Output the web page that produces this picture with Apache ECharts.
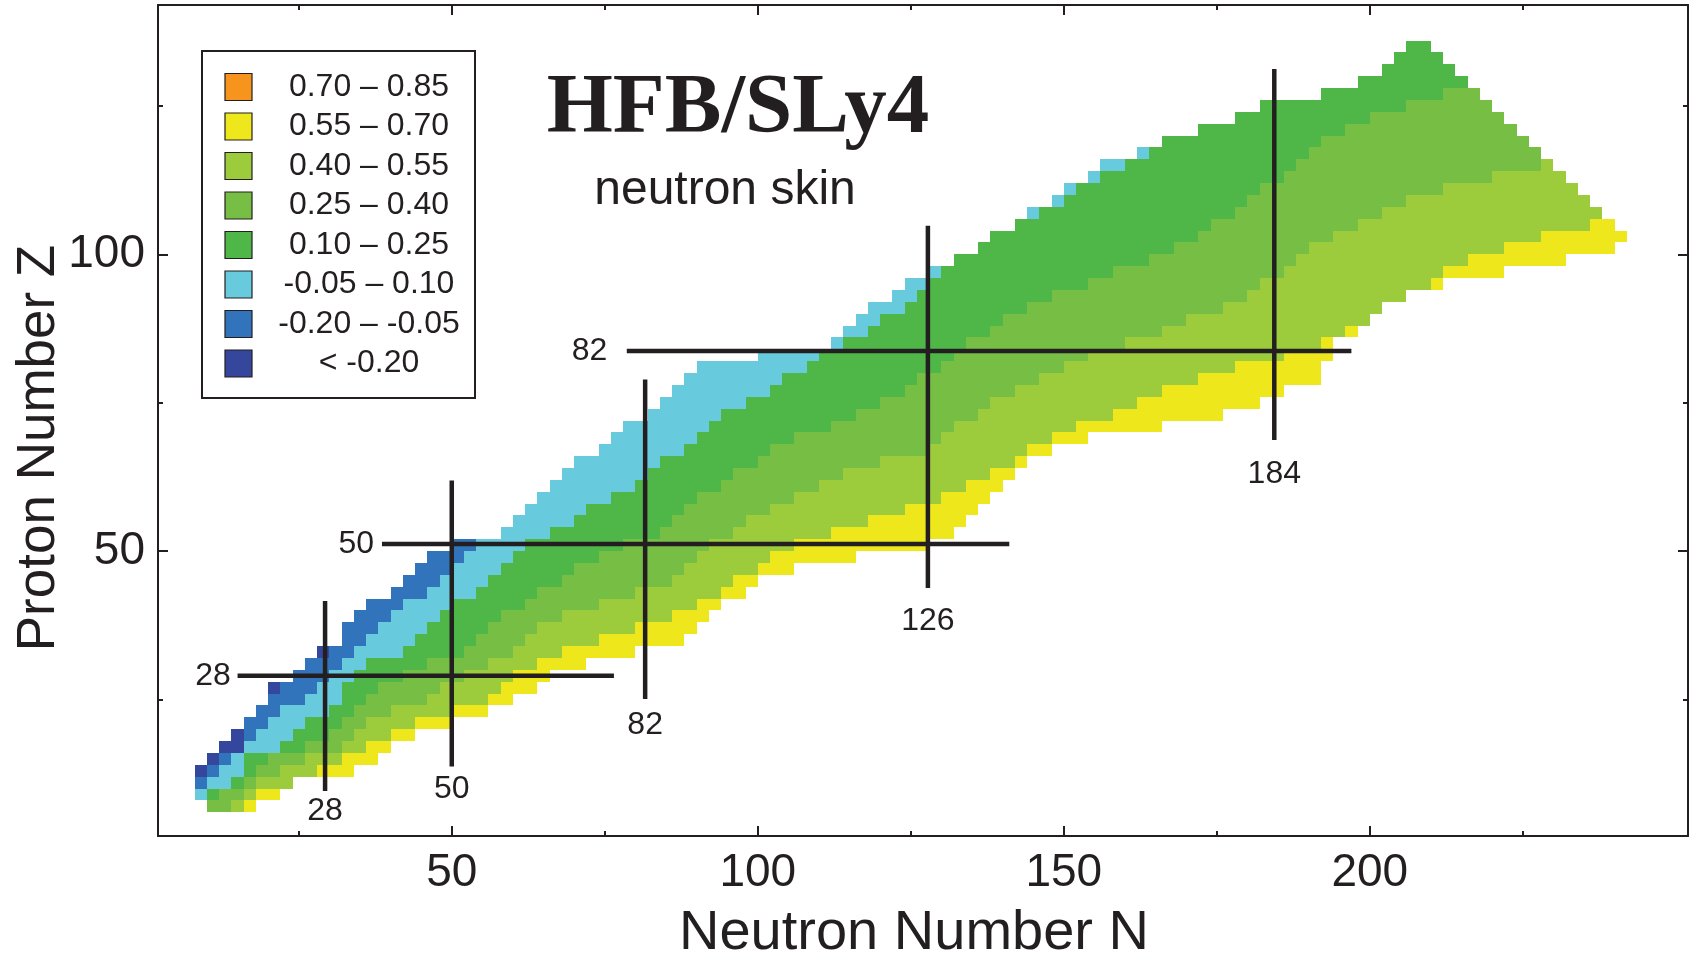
<!DOCTYPE html>
<html><head><meta charset="utf-8">
<script src="https://cdn.jsdelivr.net/npm/echarts@6/dist/echarts.min.js"></script>
<style>html,body{margin:0;padding:0;background:#fff}#c{width:1702px;height:961px}</style>
</head><body><div id="c"></div>
<script>
// ---------- DATA ----------
// proton number of each row of even-even nuclei (cell spans Z-2..Z)
const zRows = [8,10,12,14,16,18,20,22,24,26,28,30,32,34,36,38,40,42,44,46,48,50,52,54,56,58,60,62,64,66,68,70,72,74,76,78,80,82,84,86,88,90,92,94,96,98,100,102,104,106,108,110,112,114,116,118,120,122,124,126,128,130,132,134,136];
// first neutron edge of each row
const nLeft = [10,8,8,8,10,12,14,16,18,20,20,24,26,28,32,32,34,36,40,42,44,46,50,58,60,62,64,66,68,70,74,76,78,82,84,86,88,90,100,112,114,116,118,122,124,128,132,136,138,142,144,148,150,154,156,162,166,172,178,182,192,198,202,204,206];
// neutron edge where each skin class ends in each row
const endDarkBlue = [10,8,8,10,12,16,16,16,18,20,22,24,26,30,32,32,34,36,40,42,44,46,50,58,60,62,64,66,68,70,74,76,78,82,84,86,88,90,100,112,114,116,118,122,124,128,132,136,138,142,144,148,150,154,156,162,166,172,178,182,192,198,202,204,206];
const endBlue = [10,8,10,12,14,16,18,20,22,26,28,30,32,34,36,38,40,42,46,48,50,52,54,58,60,62,64,66,68,70,74,76,78,82,84,86,88,90,100,112,114,116,118,122,124,128,132,136,138,142,144,148,150,154,156,162,166,172,178,182,192,198,202,204,206];
const endCyan = [10,10,14,16,16,22,24,26,30,32,32,34,36,42,44,46,48,50,54,56,58,60,62,66,70,72,76,80,82,84,88,90,92,94,98,102,104,108,110,114,118,120,124,126,128,130,132,136,138,142,146,150,152,156,160,164,166,172,178,182,192,198,202,204,206];
const endGreen = [10,12,16,18,20,26,30,32,34,36,38,42,46,52,54,56,58,62,64,68,70,74,78,84,86,88,90,94,96,100,102,106,112,116,120,124,126,130,132,134,138,140,144,148,154,158,164,168,172,174,178,180,182,186,188,190,192,196,200,206,212,216,214,212,210];
const endMidGreen = [14,16,18,22,26,32,34,36,40,46,48,52,56,60,62,64,68,74,80,86,88,90,92,96,98,102,106,110,114,120,128,130,132,136,138,142,146,150,154,160,166,170,176,180,182,186,188,190,194,198,202,206,212,220,228,228,226,224,222,220,218,216,214,212,210];
const endYellowGreen = [16,18,24,28,32,36,40,44,50,56,58,60,64,68,74,80,86,90,94,96,100,102,106,112,118,124,130,134,138,142,144,148,152,158,162,166,172,178,186,192,196,200,202,206,210,212,216,222,228,236,238,236,234,232,230,228,226,224,222,220,218,216,214,212,210];
const endYellow = [18,22,24,34,38,40,44,50,56,60,64,66,72,80,88,90,92,94,98,100,106,116,128,132,134,136,138,140,142,144,148,154,166,176,182,186,192,192,194,194,198,200,202,206,212,222,232,240,242,240,238,236,234,232,230,228,226,224,222,220,218,216,214,212,210];

// legend classes (top to bottom)
const legendLabels = ['0.70 \u2013 0.85','0.55 \u2013 0.70','0.40 \u2013 0.55','0.25 \u2013 0.40','0.10 \u2013 0.25','-0.05 \u2013 0.10','-0.20 \u2013 -0.05','< -0.20'];

// magic numbers
const magicNLabels = ['28','50','82','126','184'];
const magicNLineN = [29.3, 50, 81.6, 127.8, 184.4];
const magicNLineZ0 = [9.6, 13.7, 25.1, 43.8, 68.7];
const magicNLineZ1 = [41.6, 61.9, 78.9, 104.8, 131.2];
const magicNLabelZ = [6.2, 9.9, 20.7, 38.2, 62.9];
const magicZLabels = ['28','50','82'];
const magicZLineZ = [29.0, 51.2, 83.7];
const magicZLineN0 = [15.0, 38.6, 78.6];
const magicZLineN1 = [76.5, 141.1, 197.0];
const magicZLabelN = [11.0, 34.4, 72.5];

// axis ticks
const xMajor = [50,100,150,200];
const xMinor = [25,75,125,175,225];
const yMajor = [50,100];
const yMinor = [25,75,125];

// ---------- STYLE ----------
const classColors = ['#35479C','#3274BB','#67CBDD','#4FB748','#76BE44','#9CCB3B','#EEE71B'];
const legendColors = ['#F7941D','#EEE71B','#9CCB3B','#76BE44','#4FB748','#67CBDD','#3274BB','#35479C'];
const ink = '#231F20';
const sans = '"Liberation Sans", Arial, Helvetica, sans-serif';

// build cell bands
const ends = [endDarkBlue, endBlue, endCyan, endGreen, endMidGreen, endYellowGreen, endYellow];
const cells = [];
zRows.forEach((z, i) => {
  let from = nLeft[i];
  ends.forEach((arr, c) => {
    const to = arr[i];
    if (to > from) { cells.push([from, to, z, c]); from = to; }
  });
});
const lineData = [];
magicNLineN.forEach((n, i) => lineData.push([n, magicNLineZ0[i], n, magicNLineZ1[i]]));
magicZLineZ.forEach((z, i) => lineData.push([magicZLineN0[i], z, magicZLineN1[i], z]));
const labelData = [];
magicNLabels.forEach((t, i) => labelData.push([magicNLineN[i], magicNLabelZ[i], t]));
magicZLabels.forEach((t, i) => labelData.push([magicZLabelN[i], magicZLineZ[i], t]));

const chart = echarts.init(document.getElementById('c'), null, {renderer: 'canvas'});

function xAx(pos, vals, len, showLine, labels) {
  return {
    type: 'value', min: 2, max: 252, position: pos,
    axisLine: {show: showLine, onZero: false, lineStyle: {color: ink, width: 2}},
    axisTick: {show: true, inside: true, length: len, customValues: vals, lineStyle: {color: ink, width: 2}},
    axisLabel: labels ? {show: true, customValues: vals, fontSize: 46, color: ink, fontFamily: sans, margin: 14} : {show: false},
    splitLine: {show: false}
  };
}
function yAx(pos, vals, len, showLine, labels) {
  return {
    type: 'value', min: 2, max: 142, position: pos,
    axisLine: {show: showLine, onZero: false, lineStyle: {color: ink, width: 2}},
    axisTick: {show: true, inside: true, length: len, customValues: vals, lineStyle: {color: ink, width: 2}},
    axisLabel: labels ? {show: true, customValues: vals, fontSize: 46, color: ink, fontFamily: sans, margin: 13} : {show: false},
    splitLine: {show: false}
  };
}
const xAxes = [xAx('bottom', xMajor, 10, true, true), xAx('bottom', xMinor, 5, false, false), xAx('top', xMajor, 10, true, false), xAx('top', xMinor, 5, false, false)];
const yAxes = [yAx('left', yMajor, 10, true, true), yAx('left', yMinor, 5, false, false), yAx('right', yMajor, 10, true, false), yAx('right', yMinor, 5, false, false)];

// legend + titles (graphic)
const lgX = 201, lgY = 50, lgW = 273, lgH = 347, lgRow = 39.5, lgFirst = 87;
const graphics = [{type: 'rect', left: lgX, top: lgY, shape: {width: lgW, height: lgH}, style: {fill: '#fff', stroke: ink, lineWidth: 2}, z: 10}];
legendLabels.forEach((t, i) => {
  const cy = lgFirst + lgRow * i;
  graphics.push({type: 'rect', x: 225, y: cy - 13.5, shape: {width: 27, height: 27}, style: {fill: legendColors[i], stroke: ink, lineWidth: 1.2}, z: 11});
  graphics.push({type: 'text', x: 369, y: cy, style: {text: t, fill: ink, font: '32px ' + sans, align: 'center', verticalAlign: 'middle'}, z: 11});
});
graphics.push({type: 'text', x: 738, y: 110, style: {text: 'HFB/SLy4', fill: ink, font: 'bold 85px "Liberation Serif", "Times New Roman", serif', align: 'center', verticalAlign: 'middle'}, z: 11});
graphics.push({type: 'text', x: 725, y: 191, style: {text: 'neutron skin', fill: ink, font: '48px ' + sans, align: 'center', verticalAlign: 'middle'}, z: 11});
graphics.push({type: 'text', x: 914, y: 934, style: {text: 'Neutron Number N', fill: ink, font: '56px ' + sans, align: 'center', verticalAlign: 'middle'}, z: 11});
graphics.push({type: 'text', x: 39, y: 448, rotation: Math.PI / 2, style: {text: 'Proton Number Z', fill: ink, font: '53px ' + sans, align: 'center', verticalAlign: 'middle'}, z: 11});

chart.setOption({
  animation: false,
  backgroundColor: '#fff',
  grid: {left: 158, right: 14, top: 5, bottom: 125, show: false, containLabel: false, outerBoundsMode: 'none'},
  xAxis: xAxes,
  yAxis: yAxes,
  graphic: graphics,
  series: [
    {
      type: 'custom', xAxisIndex: 0, yAxisIndex: 0, data: cells, encode: {x: [0, 1], y: 2},
      renderItem: function (params, api) {
        const a = api.coord([api.value(0), api.value(2)]);
        const b = api.coord([api.value(1), api.value(2) - 2]);
        const x0 = Math.round(a[0]), x1 = Math.round(b[0]);
        const y0 = Math.round(a[1]), y1 = Math.round(b[1]);
        return {type: 'rect', shape: {x: x0, y: y0, width: x1 - x0, height: y1 - y0}, style: {fill: classColors[api.value(3)]}};
      },
      z: 2
    },
    {
      type: 'custom', xAxisIndex: 0, yAxisIndex: 0, data: lineData, encode: {x: [0, 2], y: [1, 3]},
      renderItem: function (params, api) {
        const a = api.coord([api.value(0), api.value(1)]);
        const b = api.coord([api.value(2), api.value(3)]);
        return {type: 'line', shape: {x1: a[0], y1: a[1], x2: b[0], y2: b[1]}, style: {stroke: ink, lineWidth: 4.5}};
      },
      z: 5
    },
    {
      type: 'custom', xAxisIndex: 0, yAxisIndex: 0, data: labelData, encode: {x: 0, y: 1},
      renderItem: function (params, api) {
        const p = api.coord([api.value(0), api.value(1)]);
        return {type: 'text', x: p[0], y: p[1], style: {text: labelData[params.dataIndex][2], fill: ink, font: '32px ' + sans, align: 'center', verticalAlign: 'middle'}};
      },
      z: 6
    }
  ]
});
</script></body></html>
